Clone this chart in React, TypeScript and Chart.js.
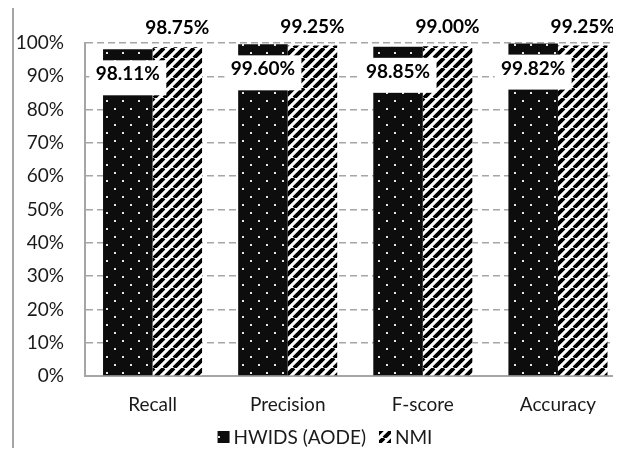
import { useEffect, useRef } from 'react';
import { Chart, registerables } from 'chart.js';

Chart.register(...registerables);

// Metric names along the x axis
const categories = ['Recall', 'Precision', 'F-score', 'Accuracy'];
// Series names
const seriesNames = ['HWIDS (AODE)', 'NMI'];
// Scores in percent
const hwidsValues = [98.11, 99.6, 98.85, 99.82];
const nmiValues = [98.75, 99.25, 99.0, 99.25];
// Value axis range and step (percent)
const yMin = 0;
const yMax = 100;
const yStep = 10;

const FONT = 'Lato, "Open Sans", sans-serif';
const FONT_SIZE = 19;
const TEXT_COLOR = '#1a1a1a';
const LINE_COLOR = '#a6a6a6';

// Black fill with a staggered grid of small light dots
function makeDotPattern(): CanvasPattern | string {
  const c = document.createElement('canvas');
  c.width = 16;
  c.height = 16;
  const g = c.getContext('2d');
  if (!g) return '#111';
  g.fillStyle = '#0d0d0d';
  g.fillRect(0, 0, 16, 16);
  g.fillStyle = '#e6e6e6';
  g.fillRect(4, 4, 2, 2);
  g.fillRect(12, 12, 2, 2);
  return g.createPattern(c, 'repeat') || '#111';
}

// White fill with wide upward diagonal black stripes
function makeHatchPattern(): CanvasPattern | string {
  const s = 10;
  const c = document.createElement('canvas');
  c.width = s;
  c.height = s;
  const g = c.getContext('2d');
  if (!g) return '#000';
  g.fillStyle = '#ffffff';
  g.fillRect(0, 0, s, s);
  g.strokeStyle = '#000000';
  g.lineWidth = 3.9;
  g.beginPath();
  for (const k of [-1, 0, 1]) {
    g.moveTo(k * s, s);
    g.lineTo(k * s + s, 0);
  }
  g.stroke();
  return g.createPattern(c, 'repeat') || '#000';
}

// Value labels: boxed inside the first series, above the bar for the second
const valueLabels = {
  id: 'valueLabels',
  afterDatasetsDraw(chart: any) {
    const ctx = chart.ctx as CanvasRenderingContext2D;
    ctx.save();
    ctx.font = `bold ${FONT_SIZE}px ${FONT}`;
    ctx.textAlign = 'center';
    ctx.textBaseline = 'middle';
    chart.data.datasets.forEach((ds: any, di: number) => {
      const meta = chart.getDatasetMeta(di);
      meta.data.forEach((bar: any, i: number) => {
        const text = Number(ds.data[i]).toFixed(2) + '%';
        if (di === 0) {
          const cy = bar.y + 25;
          ctx.fillStyle = '#ffffff';
          ctx.fillRect(bar.x - 38.5, cy - 14, 77, 35);
          ctx.fillStyle = '#000000';
          ctx.fillText(text, bar.x, cy);
        } else {
          ctx.fillStyle = '#000000';
          ctx.fillText(text, bar.x, bar.y - 19);
        }
      });
    });
    ctx.restore();
  },
};

// Compact legend centred under the axis labels
const swatchLegend = {
  id: 'swatchLegend',
  afterDraw(chart: any) {
    const ctx = chart.ctx as CanvasRenderingContext2D;
    const box = 12;
    const gap = 4;
    const itemGap = 13;
    ctx.save();
    ctx.font = `${FONT_SIZE}px ${FONT}`;
    ctx.textBaseline = 'middle';
    ctx.textAlign = 'left';
    const items = chart.data.datasets.map((ds: any) => ({
      label: ds.label as string,
      fill: ds.backgroundColor,
      w: box + gap + ctx.measureText(ds.label).width,
    }));
    const total =
      items.reduce((s: number, it: any) => s + it.w, 0) + itemGap * (items.length - 1);
    let x = chart.width / 2 - total / 2;
    const cy = chart.chartArea.bottom + 61;
    items.forEach((it: any) => {
      ctx.fillStyle = it.fill;
      ctx.fillRect(x, cy - box / 2, box, box);
      ctx.fillStyle = TEXT_COLOR;
      ctx.fillText(it.label, x + box + gap, cy + 1);
      x += it.w + itemGap;
    });
    ctx.restore();
  },
};

export default function App() {
  const canvasRef = useRef<HTMLCanvasElement | null>(null);

  useEffect(() => {
    const canvas = canvasRef.current;
    if (!canvas) return;
    const chart = new Chart(canvas, {
      type: 'bar',
      data: {
        labels: categories,
        datasets: [
          {
            label: seriesNames[0],
            data: hwidsValues,
            backgroundColor: makeDotPattern() as any,
            borderWidth: 0,
            categoryPercentage: 0.733,
            barPercentage: 1,
          },
          {
            label: seriesNames[1],
            data: nmiValues,
            backgroundColor: makeHatchPattern() as any,
            borderWidth: 0,
            categoryPercentage: 0.733,
            barPercentage: 1,
          },
        ],
      },
      options: {
        responsive: false,
        animation: false,
        devicePixelRatio: 1,
        layout: { padding: { top: 35, right: 10.5, bottom: 44, left: 0 } },
        plugins: {
          legend: { display: false },
          tooltip: { enabled: false },
        },
        scales: {
          x: {
            grid: { display: false, drawTicks: false },
            border: { display: true, color: LINE_COLOR, width: 2 },
            ticks: {
              color: TEXT_COLOR,
              font: { family: FONT, size: FONT_SIZE },
              padding: 17,
            },
            afterFit(scale: any) {
              scale.height = 40;
            },
          },
          y: {
            min: yMin,
            max: yMax,
            grid: { color: LINE_COLOR, lineWidth: 1.5, drawTicks: false },
            border: { display: true, color: LINE_COLOR, width: 2, dash: [7, 4] },
            ticks: {
              stepSize: yStep,
              color: TEXT_COLOR,
              font: { family: FONT, size: FONT_SIZE },
              padding: 21,
              callback: (v: any) => `${v}%`,
            },
            afterFit(scale: any) {
              scale.width = 71;
            },
          },
        },
      },
      plugins: [valueLabels, swatchLegend],
    });
    return () => chart.destroy();
  }, []);

  return (
    <div
      style={{
        position: 'relative',
        margin: -8,
        width: 621,
        height: 456,
        overflow: 'hidden',
        background: '#ffffff',
      }}
    >
      <div
        style={{
          position: 'absolute',
          left: 12,
          top: 6,
          width: 622,
          height: 452,
          border: `2px solid ${LINE_COLOR}`,
        }}
      >
        <canvas
          ref={canvasRef}
          width={622}
          height={452}
          style={{ display: 'block', width: 622, height: 452 }}
        />
      </div>
    </div>
  );
}
